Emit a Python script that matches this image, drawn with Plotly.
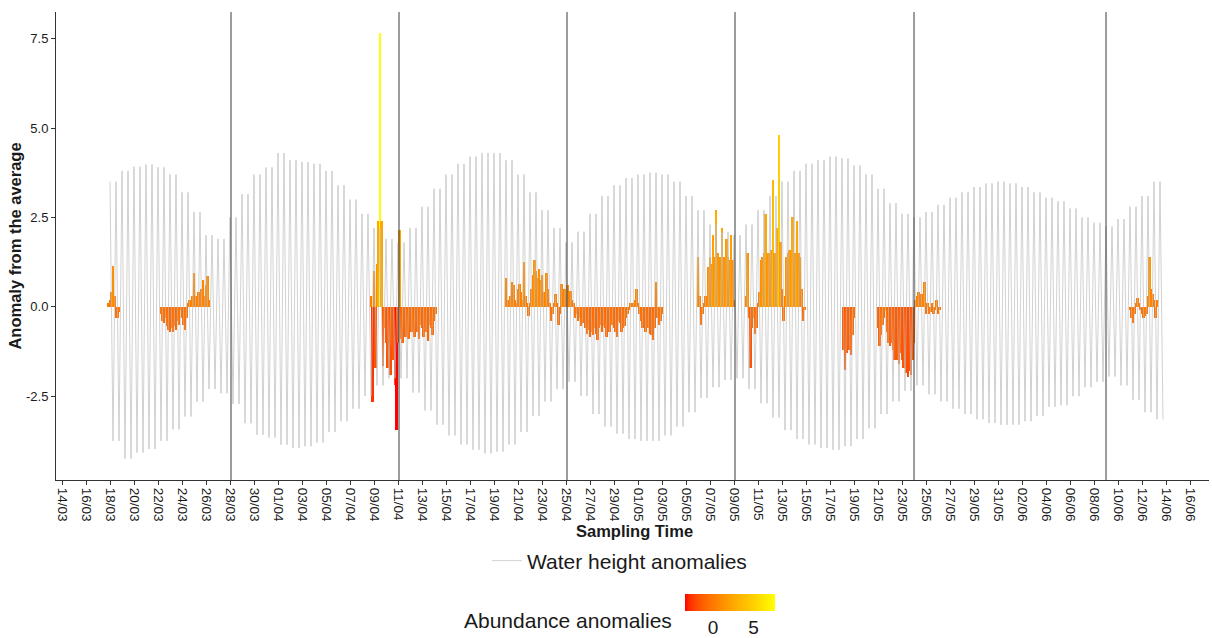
import pandas as pd
import plotly.graph_objects as go

# ---------------- data ----------------
# daily tide extremes (water height anomaly), 18/03 .. 13/06
tide_start = "2019-03-18"
high_tide = [
    # March 18-31
    3.5, 3.8, 3.92, 3.98, 3.9, 3.7, 3.2, 2.65, 2.0, 1.9, 2.5, 3.15, 3.7, 3.9,
    # April 1-30
    4.3, 4.1, 4.05, 4.0, 3.8, 3.4, 3.0, 2.6, 2.2, 1.9, 1.8, 2.2, 2.8, 3.3, 3.7,
    4.0, 4.2, 4.3, 4.3, 4.1, 3.7, 3.2, 2.7, 2.2, 1.8, 2.1, 2.6, 3.1, 3.4, 3.6,
    # May 1-31
    3.7, 3.75, 3.7, 3.5, 3.1, 2.7, 2.3, 2.1, 2.0, 2.3, 2.7, 3.1, 3.5, 3.8, 4.0,
    4.1, 4.2, 4.15, 3.95, 3.7, 3.3, 2.9, 2.6, 2.5, 2.65, 2.85, 3.05, 3.2, 3.35, 3.45, 3.5,
    # June 1-13
    3.45, 3.35, 3.2, 3.05, 2.95, 2.75, 2.5, 2.35, 2.25, 2.45, 2.8, 3.1, 3.5,
]
low_tide = [
    # March 18-31
    -3.75, -4.25, -4.08, -3.98, -3.75, -3.43, -3.07, -2.66, -2.3, -2.42, -2.72, -3.26, -3.58, -3.66,
    # April 1-30
    -3.86, -3.95, -3.9, -3.8, -3.5, -3.2, -2.85, -2.5, -2.2, -2.0, -2.0, -2.4, -2.9, -3.3, -3.6,
    -3.85, -4.0, -4.1, -4.05, -3.85, -3.5, -3.05, -2.65, -2.3, -2.1, -2.5, -3.0, -3.35, -3.55, -3.7,
    # May 1-31
    -3.75, -3.75, -3.6, -3.35, -2.95, -2.55, -2.25, -2.05, -2.0, -2.3, -2.7, -3.1, -3.45, -3.7, -3.85,
    -3.95, -4.0, -3.9, -3.7, -3.4, -3.0, -2.65, -2.35, -2.2, -2.45, -2.65, -2.85, -3.0, -3.15, -3.25, -3.3,
    # June 1-13
    -3.3, -3.2, -3.05, -2.8, -2.75, -2.5, -2.25, -2.1, -1.95, -2.2, -2.6, -2.95, -3.15,
]
tide_hours = [0, 6, 12, 18]
tide_side = ["high", "low", "high", "low"]

# abundance anomalies, 3-hourly values in bursts
abund_step_hours = 3
abund_A_start = "2019-03-17 21:00"
abund_A = [0.1, 0.2, 0.4, 1.15, 0.3, -0.3, -0.3, -0.15]
abund_B_start = "2019-03-22 06:00"
abund_B = [-0.2, -0.4, -0.45, -0.3, -0.55, -0.65, -0.7, -0.6, -0.7, -0.55, -0.65, -0.4,
           -0.5, -0.1, -0.3, -0.5, -0.65, -0.3, 0.1, 0.2, 0.15, 0.3, 0.95, 0.3, 0.2,
           0.4, 0.3, 0.5, 0.75, 0.3, 0.6, 0.85, 0.2]
abund_C_start = "2019-04-08 18:00"
abund_C = [0.3, -2.65, 1.0, -1.7, 1.2, 2.4, 7.65, 2.4, -1.65, -0.6, -1.0, -1.7, -0.9, -1.9,
           -1.1, -1.5, -2.2, -3.45, -1.0, 2.15, -0.9, -1.0, -0.6, -0.85, -0.5, -0.9, -0.6,
           -0.7, -0.4, -0.85, -0.5, -0.7, -0.9, -0.5, -0.6, -0.85, -0.4, -0.7, -0.95, -0.5,
           -0.6, -0.8, -0.4, -0.2]
abund_D_start = "2019-04-20 00:00"
abund_D = [0.8, 0.2, 0.1, 0.3, 0.7, 0.6, 0.2, 0.1, 0.5, 0.65, 0.4, 0.2, 1.25, 0.3, 0.1,
           -0.25, 0.1, 0.5, 0.9, 1.3, 1.0, 0.8, 1.05, 0.75, 0.9, 0.4, 0.3, 0.95, 0.5, 0.1,
           -0.4, -0.2, 0.1, 0.35, 0.1, -0.5, -0.2, 0.65, 0.3, 0.5, 0.35, 0.6, 0.3, 0.45,
           0.2, 0.1, -0.3, -0.2, -0.4, -0.3, -0.55, -0.45, -0.3, -0.6, -0.75, -0.65, -0.85,
           -0.7, -0.8, -0.6, -0.75, -0.93, -0.6, -0.5, -0.7, -0.55, -0.6, -0.85, -0.5, -0.7,
           -0.45, -0.5, -0.6, -0.7, -0.85, -0.4, -0.45, -0.7, -0.6, -0.55, -0.3, -0.2, -0.1,
           0.1, 0.05, 0.1, 0.2, 0.5, 0.1, -0.2, -0.4, -0.6, -0.5, -0.7, -0.55, -0.6, -0.75,
           -0.8, -0.93, -0.6, 0.7, -0.3, -0.5, -0.4, -0.2]
abund_E_start = "2019-05-06 00:00"
abund_E = [1.4, 0.3, -0.5, -0.2, 0.1, 0.3, 0.2, 1.1, 1.4, 1.2, 2.0, 1.4, 2.7, 1.5, 1.3,
           1.4, 2.2, 1.4, 1.3, 1.9, 1.4, 1.3, 2.0, 1.3, 0.2]
abund_F_start = "2019-05-10 00:00"
abund_F = [0.3, 1.5, -0.3, -1.7, -0.6, -0.3, -0.75, -0.6, 0.1, 0.4, 1.3, 1.4, 1.5, 2.6,
           1.4, 1.5, 1.5, 1.6, 3.55, 1.5, 1.5, 2.2, 4.8, 1.8, 0.5, -0.4, 0.3, 1.4, 1.5,
           1.6, 1.5, 2.5, 1.5, 1.5, 2.4, 1.5, 1.4, 0.5, -0.4, -0.1]
abund_G_start = "2019-05-18 03:00"
abund_G = [-1.2, -1.77, -1.3, -1.0, -1.2, -1.35, -0.8, -0.3]
abund_H_start = "2019-05-21 00:00"
abund_H = [-0.6, -1.1, -0.8, -0.5, -0.3, -0.1, -0.7, -1.0, -1.1, -1.0, -1.2, -1.5, -1.3,
           -1.5, -1.6, -1.3, -1.5, -1.7, -1.5, -1.85, -1.95, -1.8, -1.9, -1.5, -1.0, 0.2,
           0.3, 0.4, 0.3, 0.35, 0.1, 0.7, -0.2, 0.1, -0.2, -0.15, 0.1, -0.2, -0.1, 0.2,
           -0.2, -0.1]
abund_I_start = "2019-06-11 00:00"
abund_I = [-0.1, -0.3, -0.45, -0.2, 0.1, 0.25, 0.1, -0.1, -0.2, -0.3, -0.25, -0.2, 0.3,
           1.4, 0.5, 0.35, 0.2, -0.3, 0.2]

sampling_times = ["2019-03-28 02:00", "2019-04-11 02:00", "2019-04-25 02:00",
                  "2019-05-09 02:00", "2019-05-24 00:00", "2019-06-09 00:00"]

tick_start, tick_end = "2019-03-14", "2019-06-16"
y_tick_vals = [-2.5, 0.0, 2.5, 5.0, 7.5]
y_tick_text = ["-2.5", "0.0", "2.5", "5.0", "7.5"]
cbar_ticks = [0, 5]

# ---------------- build series ----------------
days = pd.date_range(tide_start, periods=len(high_tide), freq="D")
w_t, w_v = [], []
for d, hi, lo in zip(days, high_tide, low_tide):
    for h, s in zip(tide_hours, tide_side):
        w_t.append(d + pd.Timedelta(hours=h))
        w_v.append(hi if s == "high" else lo)

segments = [(abund_A_start, abund_A), (abund_B_start, abund_B), (abund_C_start, abund_C),
            (abund_D_start, abund_D), (abund_E_start, abund_E), (abund_F_start, abund_F),
            (abund_G_start, abund_G), (abund_H_start, abund_H), (abund_I_start, abund_I)]
a_t, a_v = [], []
for start, vals in segments:
    t0 = pd.Timestamp(start)
    for k, v in enumerate(vals):
        a_t.append(t0 + pd.Timedelta(hours=abund_step_hours * k))
        a_v.append(v)

ymin = min(min(w_v), min(a_v))
ymax = max(max(w_v), max(a_v))
pad = 0.05 * (ymax - ymin)

font_family = "Liberation Sans, Arial, sans-serif"
# red -> yellow gradient interpolated in Lab space (as in ggplot2)
colorscale = [[0.0, "#FF0000"], [0.05, "#FF2C00"], [0.1, "#FF4100"], [0.15, "#FF5100"],
              [0.25, "#FF6C00"], [0.5, "#FFA100"], [0.75, "#FFCE00"], [1.0, "#FFFF00"]]

fig = go.Figure()
fig.add_trace(go.Bar(
    x=a_t, y=a_v, width=abund_step_hours * 1.35 * 3600 * 1000,
    marker=dict(color=a_v, colorscale=colorscale, cmin=min(a_v), cmax=max(a_v),
                line=dict(width=0),
                showscale=True,
                colorbar=dict(orientation="h", x=0.5846, xanchor="center",
                              y=-0.2436, yanchor="top", len=90, lenmode="pixels",
                              thickness=17, tickvals=cbar_ticks, ticks="",
                              tickfont=dict(size=19, color="#1a1a1a", family=font_family),
                              outlinewidth=0, xpad=0, ypad=0)),
    showlegend=False, hoverinfo="x+y",
))
fig.add_trace(go.Scatter(
    x=w_t, y=w_v, mode="lines", name="Water height anomalies",
    line=dict(color="#bdbdbd", width=0.7),
))

for s in sampling_times:
    fig.add_shape(type="line", x0=s, x1=s, y0=0, y1=1, xref="x", yref="paper",
                  line=dict(color="#3a3a3a", width=1))

tick_dates = pd.date_range(tick_start, tick_end, freq="2D")

fig.add_annotation(text="Abundance anomalies", xref="paper", yref="paper",
                   x=(674 - 56) / 1153, y=(480 - 620) / 468, xanchor="right",
                   yanchor="middle", showarrow=False,
                   font=dict(size=21, color="#1a1a1a", family=font_family))
fig.add_annotation(text="Sampling Time", xref="paper", yref="paper",
                   x=(634 - 56) / 1153, y=(480 - 531) / 468, xanchor="center",
                   yanchor="middle", showarrow=False,
                   font=dict(size=16.5, color="#1a1a1a", family=font_family, weight="bold"))

fig.update_layout(
    width=1212, height=638,
    margin=dict(l=56, r=3, t=12, b=158),
    paper_bgcolor="white", plot_bgcolor="white",
    font=dict(family=font_family, color="#1a1a1a"),
    bargap=0,
    legend=dict(orientation="h", x=(487 - 56) / 1153, xanchor="left",
                y=(480 - 561) / 468, yanchor="middle",
                font=dict(size=21, color="#1a1a1a"), bgcolor="rgba(0,0,0,0)"),
    xaxis=dict(type="date", range=["2019-03-13 12:00", "2019-06-17 14:00"],
               tickvals=list(tick_dates), ticktext=[d.strftime("%d/%m") for d in tick_dates],
               tickangle=90, ticks="outside", ticklen=4, tickcolor="#333",
               showline=True, linecolor="#333", linewidth=1, showgrid=False, zeroline=False,
               tickfont=dict(size=13.5, color="#1a1a1a")),
    yaxis=dict(range=[ymin - pad, ymax + pad], tickvals=y_tick_vals, ticktext=y_tick_text,
               ticks="outside", ticklen=4, tickcolor="#333",
               showline=True, linecolor="#333", linewidth=1, showgrid=False, zeroline=False,
               tickfont=dict(size=13, color="#1a1a1a"),
               title=dict(text="Anomaly from the average", font=dict(size=16.5, weight="bold"),
                          standoff=0)),
)

fig.write_html("out.html")
